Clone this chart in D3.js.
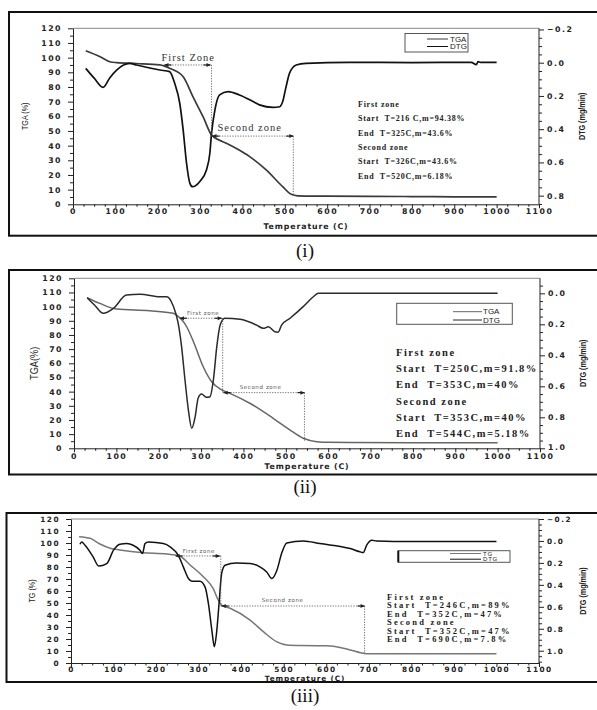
<!DOCTYPE html>
<html><head><meta charset="utf-8">
<script src="https://cdn.jsdelivr.net/npm/d3@7"></script>
<style>
body{margin:0;background:#fff;}
svg{display:block;}
text{white-space:pre;}
</style></head><body>
<svg id="c" width="597" height="710"></svg>
<script>
// ---------- DATA ----------
const xTicks = [0,100,200,300,400,500,600,700,800,900,1000,1100];
const leftTicks = [0,10,20,30,40,50,60,70,80,90,100,110,120];
const rightTicks1 = [-0.2,0.0,0.2,0.4,0.6,0.8];
const rightTicks2 = [0.0,0.2,0.4,0.6,0.8,1.0];
const rightTicks3 = [-0.2,0.0,0.2,0.4,0.6,0.8,1.0];

// Panel (i)
const tga1T = [30,64,87,103,150,205,228,260,283,307,327,345,362,390,417,456,495,515,530,600,700,800,900,1000];
const tga1M = [104.7,100.6,97.2,96.6,96,95,92.7,87,73.4,59.7,47.2,43.8,41.6,37.3,32.5,23.4,12,6.8,5.8,5.6,5.4,5.3,5.1,5.0];
const dtg1T = [30,50,71,87,103,134,150,205,228,240,252,260,268,276,282,299,315,323,327,335,346,366,393,425,440,472,488,495,503,511,527,550,652,800,940,952,956,962,1000];
const dtg1V = [0.034,0.093,0.148,0.09,0.044,0.004,0.014,0.044,0.054,0.124,0.244,0.404,0.605,0.726,0.746,0.716,0.645,0.545,0.425,0.284,0.194,0.174,0.194,0.234,0.254,0.269,0.265,0.234,0.144,0.064,0.014,0.004,-0.002,-0.001,-0.002,0.012,-0.006,-0.002,-0.002];
const zone1T = [216,327,520];
const zone1M = [95,46.5,6];
const info1 = ["First zone","Start  T=216 C,m=94.38%","End  T=325C,m=43.6%","Second zone","Start  T=326C,m=43.6%","End  T=520C,m=6.18%"];
const zoneLabels1 = ["First Zone","Second zone"];
const legend1 = ["TGA","DTG"];

// Panel (ii)
const tga2T = [31,61,101,179,234,242,266,282,305,325,349,368,415,470,510,541,573,600,800,1000];
const tga2M = [106.3,102.3,98.3,97.1,95.3,94,85.8,75.2,57.6,47,41.2,38.8,31.8,21.2,12.9,7.1,4.7,4.2,4,4];
const dtg2T = [31,50,69,93,124,156,203,219,234,246,254,262,270,278,286,293,301,313,321,329,337,345,356,392,431,447,459,474,482,490,510,541,565,577,700,850,1000];
const dtg2V = [0.028,0.08,0.129,0.097,0.011,0.006,0.022,0.022,0.08,0.194,0.345,0.559,0.753,0.871,0.796,0.677,0.65,0.671,0.667,0.559,0.345,0.205,0.161,0.168,0.205,0.226,0.216,0.248,0.251,0.205,0.161,0.086,0.022,0.0,0.0,0.0,0.0];
const zone2T = [250,351,544];
const zone2M = [91.8,39.3,5];
const info2 = ["First zone","Start  T=250C,m=91.8%","End  T=353C,m=40%","Second zone","Start  T=353C,m=40%","End  T=544C,m=5.18%"];
const zoneLabels2 = ["First zone","Second zone"];
const legend2 = ["TGA","DTG"];

// Panel (iii)
const tga3T = [19,45,68,92,115,170,225,256,280,311,334,346,354,374,421,452,483,507,540,600,616,650,695,800,1000];
const tga3M = [105.3,103.9,99.2,95.6,94.2,91.9,90.8,89,81.7,71.9,62.2,52.5,48.3,45.6,35.8,26.1,17.8,15,14.5,14.3,14,11.5,7.8,7.8,7.8];
const dtg3T = [21,25,33,52,65,84,100,115,131,146,162,168,174,182,217,233,252,264,276,284,303,315,323,331,337,342,348,354,362,389,421,444,460,472,484,495,507,546,585,656,679,687,695,707,718,800,900,1000];
const dtg3V = [0.03,0.01,0.039,0.145,0.228,0.206,0.084,0.030,0.024,0.039,0.084,0.115,0.024,0.010,0.024,0.054,0.130,0.236,0.342,0.367,0.367,0.418,0.570,0.812,0.963,0.842,0.570,0.297,0.221,0.200,0.206,0.236,0.283,0.342,0.266,0.115,0.018,0.000,0.024,0.069,0.099,0.106,0.039,-0.006,0.000,0.005,0.005,0.005];
const zone3T = [246,352,690];
const zone3M = [89.2,47.5,7.8];
const info3 = ["First zone","Start  T=246C,m=89%","End  T=352C,m=47%","Second zone","Start  T=352C,m=47%","End  T=690C,m=7.8%"];
const zoneLabels3 = ["First zone","Second zone"];
const legend3 = ["TG","DTG"];

const leftTitles = ["TGA (%)","TGA(%)","TG (%)"];
const rightTitle = "DTG (mg/min)";
const xTitle = "Temperature (C)";
const subLabels = ["(i)","(ii)","(iii)"];

// ---------- LAYOUT ----------
const svg = d3.select("#c");
const SANS = "DejaVu Sans, Verdana, sans-serif";
const SERIF = "Liberation Serif, Times New Roman, serif";
const NARROW = "Liberation Sans, Arial, sans-serif";

const panels = [
  {box:[9,12,600,223.7], plot:{l:73,r:539,t:28.3,b:204.3}, rDomain:[-0.207,0.852], rTicks:rightTicks1,
   tgaT:tga1T,tgaM:tga1M,dtgT:dtg1T,dtgV:dtg1V,zT:zone1T,zM:zone1M,info:info1,zl:zoneLabels1,leg:legend1,
   tgaColor:"#3a3a3a", dtgColor:"#111", lw:1.7,
   zoneStyle:{font:SERIF,size:10.5,ls:1.0,fill:"#333", l1:[-3,-4], l2:[6,-5]},
   infoStyle:{x:358,y0:107,dy:14.3,size:8,ls:0.75},
   legBox:[405,33.5,63,18.5], legLine:[427,448], legY:[39,46.5], legText:{x:450,size:8,ls:0},
   ltitle:{x:25,size:9}, rtitleX:582, labC:212, xtitleY:228.5, tickFS:7.8},
  {box:[9,270,600,204.5], plot:{l:74,r:540,t:278.3,b:448.3}, rDomain:[-0.097,1.0], rTicks:rightTicks2,
   tgaT:tga2T,tgaM:tga2M,dtgT:dtg2T,dtgV:dtg2V,zT:zone2T,zM:zone2M,info:info2,zl:zoneLabels2,leg:legend2,
   tgaColor:"#666", dtgColor:"#2a2a2a", lw:1.5,
   zoneStyle:{font:SANS,size:5.5,ls:0.6,fill:"#555", l1:[7,-3], l2:[17,-4]},
   infoStyle:{x:396,y0:356,dy:16.2,size:10.5,ls:1.5},
   legBox:[396.7,303.3,115.6,21], legLine:[453,482], legY:[311.7,320], legText:{x:483,size:8,ls:0},
   ltitle:{x:34,size:11.5}, rtitleX:583, labC:457, xtitleY:469, tickFS:7.8},
  {box:[6.5,513,600,169], plot:{l:71,r:539,t:519,b:663}, rDomain:[-0.2,1.112], rTicks:rightTicks3,
   tgaT:tga3T,tgaM:tga3M,dtgT:dtg3T,dtgV:dtg3V,zT:zone3T,zM:zone3M,info:info3,zl:zoneLabels3,leg:legend3,
   tgaColor:"#777", dtgColor:"#111", lw:1.5,
   zoneStyle:{font:SANS,size:5.5,ls:0.6,fill:"#555", l1:[7,-3], l2:[41,-4]},
   infoStyle:{x:387,y0:599.5,dy:8.5,size:8.5,ls:2.2},
   legBox:[398.3,550.7,111.7,11.6], legLine:[450,481], legY:[553.5,559.2], legText:{x:483,size:6,ls:0.8},
   ltitle:{x:32,size:9}, rtitleX:583, labC:669, xtitleY:680.5, tickFS:7.3}
];
const subY = [257,493,702];

function styleAxis(sel, fs){
  sel.select(".domain").attr("stroke","#222").attr("stroke-width",1);
  sel.selectAll(".tick line").attr("stroke","#222").attr("stroke-width",1);
  sel.selectAll(".tick text").attr("font-family",SANS).attr("font-weight","bold")
    .attr("font-size",fs).attr("letter-spacing",1.5).attr("fill","#222");
}

function drawPanel(p, idx){
  const g = svg.append("g");
  const P = p.plot;
  g.append("rect").attr("x",p.box[0]).attr("y",p.box[1]).attr("width",p.box[2]).attr("height",p.box[3])
    .attr("fill","none").attr("stroke","#111").attr("stroke-width",2);

  const x = d3.scaleLinear().domain([0,1100]).range([P.l,P.r]);
  const yL = d3.scaleLinear().domain([0,120]).range([P.b,P.t]);
  const yR = d3.scaleLinear().domain(p.rDomain).range([P.t,P.b]);

  g.append("line").attr("x1",P.l).attr("x2",P.r).attr("y1",P.t).attr("y2",P.t)
    .attr("stroke","#888").attr("stroke-width",1);

  const xMinor = d3.range(0,1101,25).filter(v=>v%100!==0);
  g.append("g").attr("transform",`translate(0,${P.b})`)
    .call(d3.axisBottom(x).tickValues(xMinor).tickSize(2.5).tickFormat(""))
    .call(s=>{s.select(".domain").remove(); s.selectAll("line").attr("stroke","#222");});
  const yMinor = d3.range(0,121,5).filter(v=>v%10!==0);
  g.append("g").attr("transform",`translate(${P.l},0)`)
    .call(d3.axisLeft(yL).tickValues(yMinor).tickSize(3).tickFormat(""))
    .call(s=>{s.select(".domain").remove(); s.selectAll("line").attr("stroke","#222");});
  const rMinor = d3.range(-0.2,1.2001,0.05).map(v=>Math.round(v*100)/100)
    .filter(v=>v>=p.rDomain[0]-1e-6 && v<=p.rDomain[1]+1e-6 && Math.round(v*100)%20!==0);
  g.append("g").attr("transform",`translate(${P.r},0)`)
    .call(d3.axisRight(yR).tickValues(rMinor).tickSize(3).tickFormat(""))
    .call(s=>{s.select(".domain").remove(); s.selectAll("line").attr("stroke","#222");});

  const ax = g.append("g").attr("transform",`translate(0,${P.b})`)
    .call(d3.axisBottom(x).tickValues(xTicks).tickSize(4).tickSizeOuter(0).tickFormat(d3.format("d")));
  styleAxis(ax,p.tickFS);
  ax.selectAll(".tick text").attr("y",p.labC-P.b).attr("dy",null).attr("dominant-baseline","central");
  const al = g.append("g").attr("transform",`translate(${P.l},0)`)
    .call(d3.axisLeft(yL).tickValues(leftTicks).tickSize(5).tickSizeOuter(0).tickPadding(6).tickFormat(d3.format("d")));
  styleAxis(al,p.tickFS);
  const ar = g.append("g").attr("transform",`translate(${P.r},0)`)
    .call(d3.axisRight(yR).tickValues(p.rTicks).tickSize(5).tickSizeOuter(0).tickPadding(3).tickFormat(d3.format(".1f")));
  styleAxis(ar,p.tickFS);
  ar.select(".domain").attr("d",`M0,${P.t}V${P.b}`);
  if(idx===1){ ar.selectAll(".tick text").filter(d=>d===1.0).attr("dy","0.15em"); }

  g.append("text").attr("x",(P.l+P.r)/2).attr("y",p.xtitleY).attr("text-anchor","middle")
    .attr("font-family",SANS).attr("font-weight","bold").attr("font-size",p.tickFS).attr("letter-spacing",0.9)
    .attr("fill","#222").text(xTitle);
  g.append("text").attr("transform",`translate(${p.ltitle.x},${(P.t+P.b)/2}) rotate(-90) scale(0.8,1)`)
    .attr("text-anchor","middle").attr("dominant-baseline","central")
    .attr("font-family",NARROW).attr("font-size",p.ltitle.size).attr("fill","#222").text(leftTitles[idx]);
  g.append("text").attr("transform",`translate(${p.rtitleX},${(P.t+P.b)/2}) rotate(-90) scale(0.8,1)`)
    .attr("text-anchor","middle").attr("dominant-baseline","central").attr("font-weight","bold")
    .attr("font-family",NARROW).attr("font-size",9).attr("fill","#222").text(rightTitle);

  const tgaData = p.tgaT.map((t,i)=>[t,p.tgaM[i]]);
  const dtgData = p.dtgT.map((t,i)=>[t,p.dtgV[i]]);
  g.append("path").datum(tgaData)
    .attr("d",d3.line().x(d=>x(d[0])).y(d=>yL(d[1])).curve(d3.curveMonotoneX))
    .attr("fill","none").attr("stroke",p.tgaColor).attr("stroke-width",p.lw).attr("stroke-linejoin","round");
  g.append("path").datum(dtgData)
    .attr("d",d3.line().x(d=>x(d[0])).y(d=>yR(d[1])).curve(d3.curveMonotoneX))
    .attr("fill","none").attr("stroke",p.dtgColor).attr("stroke-width",p.lw).attr("stroke-linejoin","round");

  const zT=p.zT, zM=p.zM;
  const dot = (x1,y1,x2,y2)=>g.append("line").attr("x1",x1).attr("y1",y1).attr("x2",x2).attr("y2",y2)
    .attr("stroke","#555").attr("stroke-width",0.8).attr("stroke-dasharray","1.3,1.3");
  dot(x(zT[0]),yL(zM[0]),x(zT[1]),yL(zM[0]));
  dot(x(zT[1]),yL(zM[0]),x(zT[1]),yL(zM[1]));
  dot(x(zT[1]),yL(zM[1]),x(zT[2]),yL(zM[1]));
  dot(x(zT[2]),yL(zM[1]),x(zT[2]),yL(zM[2]));
  const arrow = (xe,ye,dir)=>{
    g.append("line").attr("x1",xe).attr("x2",xe-dir*7).attr("y1",ye).attr("y2",ye).attr("stroke","#222").attr("stroke-width",1.2);
    g.append("path").attr("d",`M${xe},${ye}L${xe-dir*4},${ye-2}L${xe-dir*4},${ye+2}Z`).attr("fill","#222");
  };
  arrow(x(zT[0]),yL(zM[0]),-1);
  arrow(x(zT[1])-1,yL(zM[0]),1);
  arrow(x(zT[1])+1,yL(zM[1]),-1);
  arrow(x(zT[2]),yL(zM[1]),1);
  const zs = p.zoneStyle;
  [[zT[0],zM[0],zs.l1,p.zl[0]],[zT[1],zM[1],zs.l2,p.zl[1]]].forEach(([t,m,off,lab])=>{
    g.append("text").attr("x",x(t)+off[0]).attr("y",yL(m)+off[1])
      .attr("font-family",zs.font).attr("font-size",zs.size).attr("letter-spacing",zs.ls)
      .attr("fill",zs.fill).text(lab);
  });

  const is = p.infoStyle;
  p.info.forEach((s,i)=>{
    g.append("text").attr("x",is.x).attr("y",is.y0+i*is.dy)
      .attr("font-family",SERIF).attr("font-weight","bold").attr("font-size",is.size)
      .attr("letter-spacing",is.ls).attr("fill","#222").text(s);
  });

  const lb = p.legBox;
  g.append("rect").attr("x",lb[0]).attr("y",lb[1]).attr("width",lb[2]).attr("height",lb[3])
    .attr("fill","#fff").attr("stroke","#555").attr("stroke-width",1);
  if(idx===2){
    g.append("line").attr("x1",lb[0]).attr("x2",lb[0]).attr("y1",lb[1]).attr("y2",lb[1]+lb[3]).attr("stroke","#111").attr("stroke-width",2);
  }
  const legColors=[p.tgaColor,p.dtgColor];
  p.leg.forEach((s,i)=>{
    g.append("line").attr("x1",p.legLine[0]).attr("x2",p.legLine[1]).attr("y1",p.legY[i]).attr("y2",p.legY[i])
      .attr("stroke",legColors[i]).attr("stroke-width",1);
    g.append("text").attr("x",p.legText.x).attr("y",p.legY[i]).attr("dominant-baseline","central")
      .attr("font-family","Liberation Sans, Arial, sans-serif").attr("font-size",p.legText.size)
      .attr("letter-spacing",p.legText.ls).attr("fill","#222").text(s);
  });

  svg.append("text").attr("x",305).attr("y",subY[idx]).attr("text-anchor","middle")
    .attr("font-family",SERIF).attr("font-size",19).attr("fill","#111").text(subLabels[idx]);
}

panels.forEach((p,i)=>drawPanel(p,i));
</script>
</body></html>
